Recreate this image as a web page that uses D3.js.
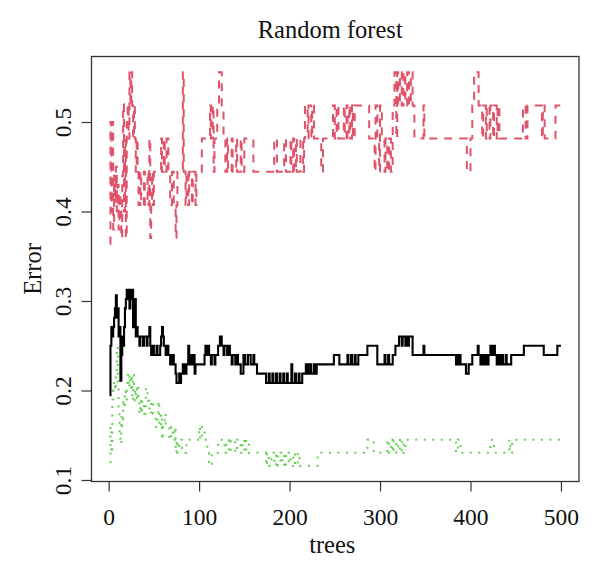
<!DOCTYPE html>
<html><head><meta charset="utf-8">
<script src="https://cdn.jsdelivr.net/npm/d3@7"></script>
<style>body{margin:0;background:#fff}</style>
</head><body><svg id="c" width="600" height="571"></svg>
<script>
const xTicks=[0,100,200,300,400,500];
const yTicks=[0.1,0.2,0.3,0.4,0.5];
const nTrees=500;
// [tree, error] at each tree where the error changes
const oob=[[1,.1948],[2,.25],[3,.2708],[4,.2604],[5,.2708],[6,.2813],[7,.2917],[8,.3063],[9,.2813],[10,.2917],[11,.2604],[12,.2708],[13,.2109],[14,.2396],[15,.2604],[16,.25],[17,.2708],[18,.2917],[19,.3021],[20,.3125],[21,.3021],[22,.3125],[23,.2917],[24,.3125],[25,.3021],[26,.3125],[27,.2708],[28,.2917],[29,.3021],[30,.2604],[31,.2708],[32,.2604],[34,.25],[35,.2604],[38,.25],[39,.2604],[42,.25],[43,.2604],[45,.2708],[46,.25],[47,.2396],[49,.25],[50,.2396],[53,.25],[54,.2396],[57,.25],[58,.2604],[59,.2708],[60,.2604],[61,.25],[63,.2396],[64,.25],[66,.2396],[68,.2292],[70,.2396],[72,.2292],[74,.2188],[75,.2083],[78,.2188],[79,.2083],[80,.2188],[82,.2292],[84,.2188],[86,.2292],[88,.25],[89,.2292],[91,.2396],[92,.2292],[94,.2396],[95,.2188],[96,.2292],[106,.2396],[107,.25],[109,.2396],[110,.25],[111,.2396],[113,.2292],[114,.2396],[117,.2292],[118,.2396],[121,.25],[123,.2604],[125,.25],[127,.2396],[128,.25],[131,.2396],[132,.25],[134,.2396],[136,.2292],[137,.2396],[140,.2292],[141,.2396],[143,.2292],[146,.2188],[149,.2396],[151,.2292],[154,.2396],[157,.2292],[160,.2396],[161,.2292],[164,.2188],[174,.2083],[177,.2188],[178,.2083],[181,.2188],[182,.2083],[185,.2188],[186,.2083],[189,.2188],[190,.2083],[193,.2188],[194,.2083],[197,.2188],[198,.2083],[202,.2292],[203,.2083],[206,.2188],[207,.2083],[210,.2188],[211,.2083],[214,.2188],[218,.2292],[220,.2188],[222,.2292],[224,.2188],[227,.2292],[228,.2188],[230,.2292],[249,.2396],[255,.2292],[264,.2396],[265,.2292],[268,.2396],[269,.2292],[272,.2396],[273,.2292],[276,.2396],[286,.25],[297,.2292],[305,.2396],[306,.2292],[309,.2396],[310,.2292],[314,.2396],[317,.25],[321,.2604],[324,.25],[325,.2604],[328,.25],[329,.2604],[331,.25],[332,.2604],[336,.2396],[348,.25],[349,.2396],[384,.2292],[385,.2396],[386,.2292],[387,.2396],[389,.2292],[395,.2188],[398,.2292],[402,.2396],[408,.25],[409,.2396],[411,.2292],[413,.2396],[414,.2292],[416,.2396],[418,.2292],[420,.2396],[422,.25],[424,.2396],[426,.25],[427,.2396],[429,.2292],[431,.2396],[433,.2292],[435,.2396],[436,.2292],[439,.2396],[440,.2292],[445,.2396],[459,.25],[481,.2396],[496,.25],[500,.25]];
const class1=[[1,.364],[2,.50],[3,.40],[4,.50],[5,.38],[6,.44],[7,.41],[8,.45],[9,.40],[10,.43],[11,.38],[12,.42],[13,.40],[14,.37],[15,.44],[16,.52],[17,.40],[18,.48],[19,.37],[20,.50],[21,.52],[22,.4815],[23,.5556],[24,.5185],[25,.5556],[26,.5185],[27,.4815],[28,.5185],[29,.4815],[30,.4444],[31,.4815],[32,.4444],[33,.4074],[35,.4444],[36,.4074],[39,.4444],[40,.4074],[43,.4444],[44,.4074],[45,.4815],[46,.3704],[47,.4074],[48,.4444],[49,.4074],[50,.4444],[58,.4815],[59,.4444],[61,.4815],[62,.4444],[64,.4815],[66,.4444],[68,.4074],[70,.4444],[72,.4074],[74,.3704],[75,.4074],[76,.4444],[82,.5556],[83,.4444],[85,.4074],[86,.4444],[88,.4074],[89,.4444],[92,.4074],[93,.4444],[96,.4074],[97,.4444],[103,.4815],[112,.5185],[113,.4815],[115,.5185],[116,.4444],[117,.4815],[120,.5185],[122,.5556],[125,.5185],[127,.4815],[129,.4444],[131,.4815],[132,.4444],[136,.4815],[137,.4444],[141,.4815],[142,.4444],[146,.4815],[147,.4444],[150,.4815],[160,.4444],[183,.4815],[186,.4444],[194,.4815],[196,.4444],[201,.4815],[202,.4444],[204,.4815],[205,.4444],[207,.4815],[208,.4444],[212,.4815],[215,.4444],[216,.4815],[217,.5185],[220,.4815],[221,.5185],[224,.4815],[225,.5185],[227,.4815],[235,.4444],[237,.4815],[248,.5185],[250,.4815],[252,.5185],[254,.4815],[260,.5185],[261,.4815],[263,.5185],[264,.4815],[266,.5185],[267,.4815],[269,.5185],[270,.4815],[272,.5185],[275,.5185],[288,.4815],[294,.4444],[295,.5185],[297,.4815],[299,.4444],[300,.5185],[302,.4815],[305,.4444],[306,.4815],[308,.4444],[310,.4815],[312,.4444],[314,.5185],[316,.5556],[318,.4815],[319,.5556],[320,.5185],[322,.5556],[324,.5185],[326,.5556],[328,.5185],[330,.5556],[332,.5185],[334,.5556],[336,.5185],[338,.4815],[348,.5185],[349,.4815],[396,.4444],[400,.4815],[402,.5185],[404,.5556],[409,.5185],[413,.4815],[414,.5185],[417,.4815],[418,.5185],[421,.4815],[422,.5185],[425,.4815],[426,.5185],[429,.4815],[430,.5185],[432,.4815],[458,.5185],[461,.4815],[463,.5185],[479,.4815],[480,.5185],[482,.4815],[494,.5185],[500,.5185]];
const class2=[[1,.12],[2,.16],[3,.13],[4,.19],[5,.2],[6,.21],[7,.2],[8,.22],[9,.249],[10,.21],[11,.175],[12,.15],[13,.14],[14,.17],[15,.16],[16,.19],[17,.18],[18,.2],[19,.19],[20,.2],[21,.2174],[22,.2029],[23,.2174],[24,.2029],[25,.2174],[26,.1884],[27,.2174],[28,.2029],[29,.1884],[30,.2029],[31,.1884],[32,.2029],[33,.1884],[34,.1739],[35,.1884],[36,.1739],[37,.1884],[39,.1739],[41,.2029],[43,.1884],[45,.1739],[47,.1884],[49,.1739],[52,.1594],[54,.1739],[55,.1884],[56,.1594],[58,.1739],[59,.1449],[60,.1594],[62,.1739],[63,.1594],[67,.1449],[69,.1594],[71,.1449],[73,.1594],[74,.1304],[75,.1449],[76,.1304],[78,.1449],[81,.1304],[86,.1449],[100,.1594],[101,.1449],[103,.1594],[106,.1449],[109,.1304],[111,.1159],[114,.1304],[121,.1449],[128,.1304],[130,.1449],[133,.1304],[135,.1449],[140,.1304],[142,.1449],[146,.1304],[148,.1449],[150,.1304],[152,.1449],[155,.1304],[174,.1159],[175,.1304],[177,.1159],[180,.1304],[183,.1159],[185,.1304],[187,.1159],[190,.1304],[192,.1159],[194,.1304],[196,.1159],[199,.1304],[201,.1159],[204,.1304],[206,.1159],[209,.1304],[211,.1159],[231,.1304],[286,.1449],[293,.1304],[308,.1449],[310,.1304],[312,.1449],[314,.1304],[315,.1449],[318,.1304],[320,.1449],[322,.1304],[324,.1449],[326,.1304],[328,.1449],[384,.1304],[386,.1449],[389,.1304],[422,.1449],[426,.1304],[443,.1449],[444,.1304],[446,.1449],[500,.1449]];
const seriesColors=["#000000","#DF536B","#61D04F"];

const svg=d3.select('#c');
const L=91.5,R=579,T=56.5,B=481.5;
const FONT='"Liberation Serif","Times New Roman",serif';
const allV=[...oob,...class1,...class2].map(d=>d[1]);
const ymin=d3.min(allV),ymax=d3.max(allV),yp=(ymax-ymin)*0.04,xp=(nTrees-1)*0.04;
const x=d3.scaleLinear().domain([1-xp,nTrees+xp]).range([L,R]);
const y=d3.scaleLinear().domain([ymin-yp,ymax+yp]).range([B,T]);

svg.append('clipPath').attr('id','cp').append('rect').attr('x',L).attr('y',T).attr('width',R-L).attr('height',B-T);
const line=d3.line().x(d=>x(d[0])).y(d=>y(d[1])).curve(d3.curveStepAfter);
const g=svg.append('g').attr('clip-path','url(#cp)');
g.append('path').datum(class2).attr('d',line).attr('fill','none').attr('stroke',seriesColors[2]).attr('stroke-width',2).attr('stroke-dasharray','2,6.5');
g.append('path').datum(class1).attr('d',line).attr('fill','none').attr('stroke',seriesColors[1]).attr('stroke-width',2).attr('stroke-dasharray','8,7');
g.append('path').datum(oob).attr('d',line).attr('fill','none').attr('stroke',seriesColors[0]).attr('stroke-width',2.1);

svg.append('rect').attr('x',L).attr('y',T).attr('width',R-L).attr('height',B-T).attr('fill','none').attr('stroke','#333').attr('stroke-width',1.3);

const xa=svg.append('g').attr('transform',`translate(0,${B})`).call(d3.axisBottom(x).tickValues(xTicks).tickSize(10).tickFormat(d3.format('d')));
xa.select('.domain').remove();
xa.selectAll('line').attr('stroke','#333').attr('stroke-width',1.2);
xa.selectAll('text').attr('y',43).attr('dy',0).attr('font-family',FONT).attr('font-size',23.5).attr('fill','#111');

const ya=svg.append('g').attr('transform',`translate(${L},0)`).call(d3.axisLeft(y).tickValues(yTicks).tickSize(10).tickFormat(d3.format('.1f')));
ya.select('.domain').remove();
ya.selectAll('line').attr('stroke','#333').attr('stroke-width',1.2);
ya.selectAll('text').attr('transform','rotate(-90)').attr('x',0).attr('y',-21).attr('dy',0).attr('text-anchor','middle').attr('font-family',FONT).attr('font-size',23.5).attr('fill','#111');

svg.append('text').attr('x',(L+R)/2-5).attr('y',38).attr('text-anchor','middle').attr('font-family',FONT).attr('font-size',24.5).attr('fill','#111').text('Random forest');
svg.append('text').attr('x',(L+R)/2-3).attr('y',553).attr('text-anchor','middle').attr('font-family',FONT).attr('font-size',24.5).attr('fill','#111').text('trees');
svg.append('text').attr('transform',`translate(41,${(T+B)/2}) rotate(-90)`).attr('text-anchor','middle').attr('font-family',FONT).attr('font-size',24.5).attr('fill','#111').text('Error');
</script></body></html>
